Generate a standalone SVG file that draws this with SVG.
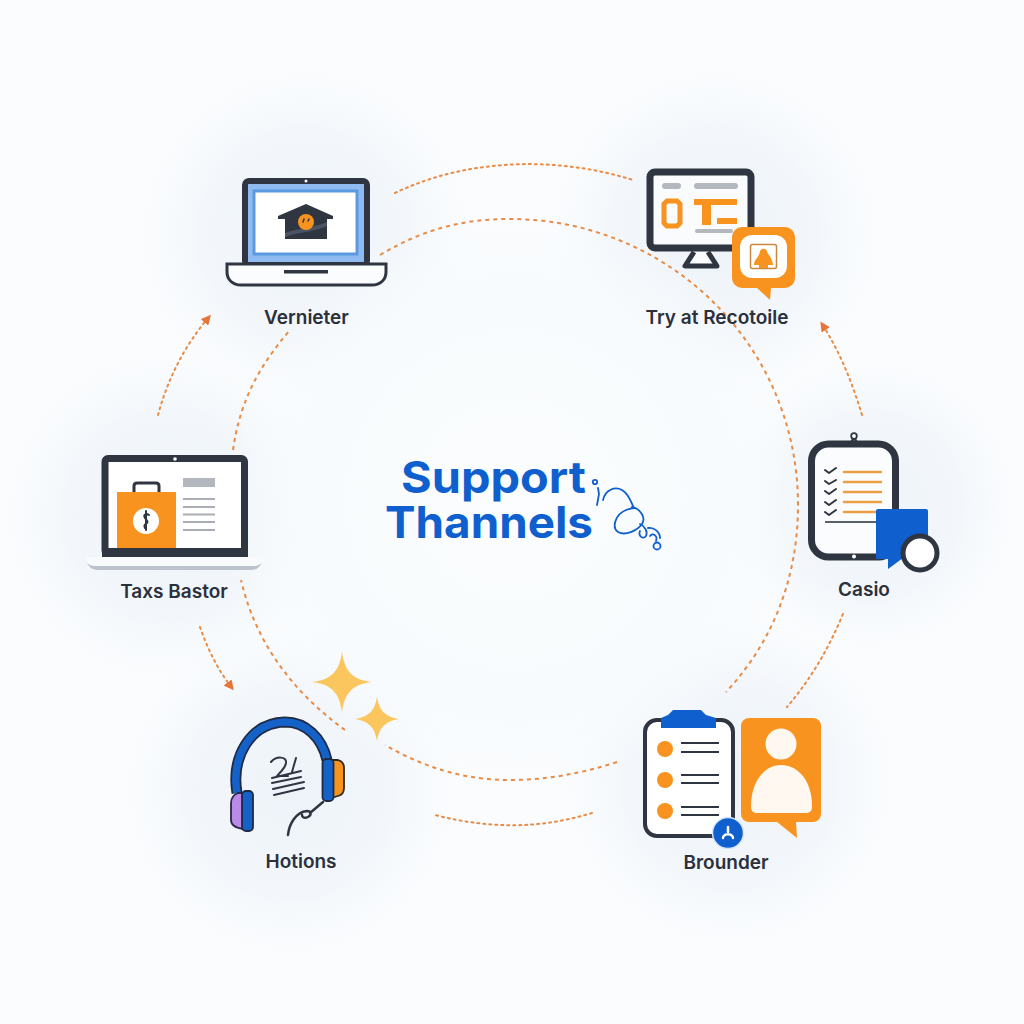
<svg xmlns="http://www.w3.org/2000/svg" width="1024" height="1024" viewBox="0 0 1024 1024">
<defs>
<radialGradient id="halo"><stop offset="0" stop-color="#eef3f9" stop-opacity="1"/><stop offset="0.6" stop-color="#f0f5fa" stop-opacity="0.75"/><stop offset="1" stop-color="#f7fafc" stop-opacity="0"/></radialGradient>
<radialGradient id="centre"><stop offset="0" stop-color="#fbfdfe"/><stop offset="0.7" stop-color="#f8fbfd"/><stop offset="1" stop-color="#f8fbfd" stop-opacity="0"/></radialGradient>
<marker id="tip" viewBox="0 0 10 10" refX="7" refY="5" markerWidth="10" markerHeight="10" markerUnits="userSpaceOnUse" orient="auto"><path d="M0 0L10 5L0 10Z" fill="#e8743a"/></marker>
</defs>
<style>
.dark{fill:#2f3541}
.line{fill:none;stroke:#2f3541;stroke-linecap:round;stroke-linejoin:round}
.org{fill:#f7931e}
.blue{fill:#0f5fce}
.wh{fill:#ffffff}
.grey{fill:#b3b8bf}
.lab{font-family:Inter,"Liberation Sans",sans-serif;font-weight:600;font-size:19px;fill:#2b303b;text-anchor:middle}
.title{font-family:Inter,"Liberation Sans",sans-serif;font-weight:700;font-size:44px;fill:#0f5fce}
.arc{fill:none;stroke:#e98b45;stroke-width:2;stroke-dasharray:4 4}
.dots{fill:none;stroke:#e98b45;stroke-width:2;stroke-dasharray:2 4;stroke-linecap:round}
</style>

<!-- backdrop -->
<rect width="1024" height="1024" fill="#fafcfe"/>
<g fill="url(#halo)">
<circle cx="305" cy="235" r="170"/><circle cx="715" cy="235" r="170"/><circle cx="870" cy="505" r="150"/>
<circle cx="730" cy="780" r="170"/><circle cx="290" cy="790" r="170"/><circle cx="170" cy="515" r="170"/>
</g>
<ellipse cx="515" cy="500" rx="290" ry="290" fill="url(#centre)"/>

<g id="connectors">
<path class="arc" d="M380 255C425 228 465 219 510 219C668 219 798 345 798 505C798 582 770 645 726 692"/>
<path class="arc" d="M617 762C580 774 545 780 510 780C465 780 425 768 385 745"/>
<path class="arc" d="M345 730C290 690 255 640 241 580"/>
<path class="arc" d="M233 450C240 400 260 365 290 330"/>
<path class="dots" d="M395 193C470 157 560 157 633 180"/>
<path class="dots" d="M843 614C828 650 810 680 787 707"/>
<path class="dots" d="M592 813C540 829 490 829 435 815"/>
<path class="dots" marker-end="url(#tip)" d="M862 415C852 382 840 352 822 324"/>
<path class="dots" marker-end="url(#tip)" d="M200 627C208 650 218 670 232 688"/>
<path class="dots" marker-end="url(#tip)" d="M158 415C168 378 185 345 209 317"/>
</g>

<g id="title">
<text class="title" x="401" y="493" textLength="185" lengthAdjust="spacingAndGlyphs">Support</text>
<text class="title" x="385" y="538" textLength="208" lengthAdjust="spacingAndGlyphs">Thannels</text>
<g fill="none" stroke="#0f5fce" stroke-width="1.8" stroke-linecap="round">
<circle cx="595" cy="482" r="2.2"/>
<path d="M598 488L599 494L597 505"/>
<path d="M603 500C605 490 615 486 622 490C630 495 631 503 634 508"/>
<path d="M632 507C641 509 646 518 642 524C637 531 625 536 618 532C611 527 616 514 626 510C629 509 632 508 634 508"/>
<path d="M640 524C645 526 648 532 646 536C643 540 638 536 640 531"/>
<path d="M648 528C654 527 660 532 660 538"/>
<circle cx="657" cy="546" r="3.5"/>
<path d="M650 536C653 532 658 536 656 541"/>
</g>
</g>

<g id="node-vernieter">
<rect x="245" y="181" width="122" height="84" rx="4" class="wh" stroke="#2f3541" stroke-width="6"/>
<rect x="248" y="184" width="116" height="78" fill="#8fbbf0"/>
<rect x="254" y="191" width="103" height="63" fill="#fff" stroke="#5c9ae0" stroke-width="3"/>
<circle cx="306" cy="181" r="1.5" fill="#fff"/>
<path class="dark" d="M278 216L306 204L333 216V219H327V239H285V219H278Z"/>
<path d="M285 233C298 228 314 228 327 222V226C314 232 298 232 285 237Z" fill="#4a5464"/>
<circle cx="306" cy="222" r="8" class="org"/>
<path d="M303 222L304 219M308 221L309 219" stroke="#2f3541" stroke-width="1.5" stroke-linecap="round"/>
<path d="M227 264H386V272C386 280 380 285 372 285H241C233 285 227 280 227 272Z" fill="#fbfcfe" stroke="#2f3541" stroke-width="3"/>
<rect x="284" y="270" width="44" height="3.5" class="dark"/>
<text class="lab" x="306.500" y="324">Vernieter</text>
</g>

<g id="node-recotoile">
<rect x="650" y="172" width="101" height="76" rx="5" fill="#fafbfd" stroke="#2f3541" stroke-width="7"/>
<path d="M694 252L685 266H717L708 252" fill="#fafbfd" stroke="#2f3541" stroke-width="5" stroke-linejoin="round"/>
<rect x="662" y="183" width="19" height="6" rx="3" class="grey"/>
<rect x="694" y="183" width="44" height="6" rx="3" class="grey"/>
<path d="M667 201H677L680 204V223L677 226H667L664 223V204Z" fill="none" stroke="#f7931e" stroke-width="5"/>
<path class="org" d="M694 199H737V205H711V225H702V205H694ZM717 218H737V224H717Z"/>
<rect x="695" y="229" width="38" height="4" rx="2" class="grey"/>
<path class="org" d="M742 227H785A10 10 0 0 1 795 237V278A10 10 0 0 1 785 288H771L770 300L757 288H742A10 10 0 0 1 732 278V237A10 10 0 0 1 742 227Z"/>
<rect x="740" y="235" width="47" height="43" rx="12" fill="#fff"/>
<rect x="750.500" y="244.500" width="26" height="24" rx="2" fill="#fff" stroke="#c98a3e" stroke-width="1.500"/>
<path class="org" d="M760 251A3.800 3.800 0 0 1 767 251C767 253 769 255 771 258C772 261 773 263 773 265H768V268H759V265H754C754 262 755 260 757 258C759 255 760 253 760 251Z"/>
<text class="lab" x="717" y="324">Try at Recotoile</text>
</g>

<g id="node-casio">
<circle cx="854" cy="436" r="2.800" fill="#fff" stroke="#2f3541" stroke-width="1.800"/>
<circle cx="854" cy="442" r="2.500" fill="#fff" stroke="#2f3541" stroke-width="1.800"/>
<rect x="811.500" y="444" width="84" height="113" rx="17" fill="#fbfcfe" stroke="#2f3541" stroke-width="7"/>
<circle cx="854" cy="556.500" r="2" fill="#fff"/>
<g class="line" stroke-width="2">
<path d="M825 470L829 473L836 468M825 481L829 484L836 480M825 491L829 494L836 489M825 502L829 505L836 500M825 512L829 515L836 510"/>
</g>
<path d="M844 472H881M844 482H881M844 492H881M844 502H881M844 512H877" stroke="#eb9f45" stroke-width="2.500" stroke-linecap="round" fill="none"/>
<path d="M825 522H877" stroke="#5a606c" stroke-width="2"/>
<path class="blue" d="M878 509H926A2 2 0 0 1 928 511V558H903L888 569V559H876V511A2 2 0 0 1 878 509Z"/>
<circle cx="920" cy="553" r="17" fill="#fff" stroke="#2f3541" stroke-width="5"/>
<text class="lab" x="864" y="596">Casio</text>
</g>

<g id="node-brounder">
<rect x="645" y="720" width="88" height="116" rx="12" fill="#fff" stroke="#2f3541" stroke-width="4"/>
<path class="blue" d="M673 710H701L706 715L716 718V728H661V718L668 715Z"/>
<g class="org"><circle cx="665" cy="749" r="8"/><circle cx="665" cy="780" r="8"/><circle cx="665" cy="811" r="8"/></g>
<path d="M681 743H719M681 752H719M681 775H719M681 783H719M681 807H719M681 815H719" stroke="#2f3541" stroke-width="2" fill="none"/>
<circle cx="728" cy="833" r="15.500" class="blue" stroke="#d7e6f7" stroke-width="1.500"/>
<path d="M728 827V832M723 838C723 833 733 833 733 838" fill="none" stroke="#fff" stroke-width="2.500" stroke-linecap="round"/>
<path class="org" d="M749 718H813A8 8 0 0 1 821 726V814A8 8 0 0 1 813 822H796L797 838L777 822H749A8 8 0 0 1 741 814V726A8 8 0 0 1 749 718Z"/>
<circle cx="781" cy="744" r="15.500" fill="#fff8f0"/>
<path d="M751 806C751 782 764 765 781 765C799 765 812 782 812 806C812 811 810 813 806 813H757C753 813 751 811 751 806Z" fill="#fff8f0"/>
<text class="lab" x="726" y="869">Brounder</text>
</g>

<g id="node-hotions">
<path d="M237 793C231 757 250 723 285 722C306 722 322 738 327 760" fill="none" stroke="#1f2a44" stroke-width="11"/>
<path d="M237 793C231 757 250 723 285 722C306 722 322 738 327 760" fill="none" stroke="#1462c8" stroke-width="7.500"/>
<path d="M243 793H238C233 795 231 799 231 803V820C231 825 236 828 243 829Z" fill="#b98ae6" stroke="#2a2748" stroke-width="1.800"/>
<rect x="242" y="791" width="11" height="40" rx="4" fill="#1462c8" stroke="#1f2a44" stroke-width="1.800"/>
<path d="M331 760H338C342 761 344 764 344 768V788C344 792 342 795 338 796L331 798Z" class="org" stroke="#2f2a20" stroke-width="1.800"/>
<rect x="322.500" y="759" width="11" height="42" rx="4" fill="#1462c8" stroke="#1f2a44" stroke-width="1.800"/>
<path class="line" stroke-width="2.500" d="M323 802L310 813M288 835C289 824 296 812 307 811C311 811 312 815 308 817C304 819 302 817 302 815"/>
<path class="line" stroke-width="2" d="M271 762C276 756 287 756 286 763C285 769 279 773 277 776H288M296 758L292 772M272 778L301 771M272 783L301 777M273 789L304 782M274 795L304 788"/>
<text class="lab" x="301" y="868">Hotions</text>
</g>

<g id="sparkles" fill="#fcc65e">
<path d="M342 651C344 670 352 680 372 682C352 684 344 694 342 713C340 694 332 684 312 682C332 680 340 670 342 651Z"/>
<path d="M377 697C379 710 385 717 399 719C385 721 379 728 377 741C375 728 369 721 355 719C369 717 375 710 377 697Z"/>
</g>

<g id="node-taxs">
<rect x="105" y="458.500" width="139.500" height="95" rx="3" fill="#fff" stroke="#2f3541" stroke-width="7"/>
<rect x="102" y="548" width="146" height="9" class="dark"/>
<circle cx="175" cy="459" r="1.800" fill="#fff"/>
<path d="M86 557H263C262 563 259 566 254 566H95C90 566 87 563 86 557Z" fill="#f8fafc"/>
<path d="M87 563C90 568 93 570 98 570H251C256 570 259 568 262 563C259 565 257 566 254 566H95C92 566 89 565 87 563Z" fill="#bcc3ca"/>
<path d="M134 492V486C134 484 135 483 137 483H156C158 483 159 484 159 486V492" fill="none" stroke="#2f3541" stroke-width="3"/>
<rect x="117" y="492" width="59" height="56" class="org"/>
<circle cx="146" cy="521" r="13" fill="#fff"/>
<path d="M149 515C146 513 143 515 145 518C147 521 149 522 146 524C144 525 144 526 145 528M146 511V530" fill="none" stroke="#2f3541" stroke-width="2" stroke-linecap="round"/>
<rect x="183" y="478" width="32" height="9" class="grey"/>
<path d="M183 499H215M183 507H215M183 514.500H215M183 522H215M183 530H215" stroke="#a9aeb6" stroke-width="2" fill="none"/>
<text class="lab" x="174" y="598">Taxs Bastor</text>
</g>
</svg>
